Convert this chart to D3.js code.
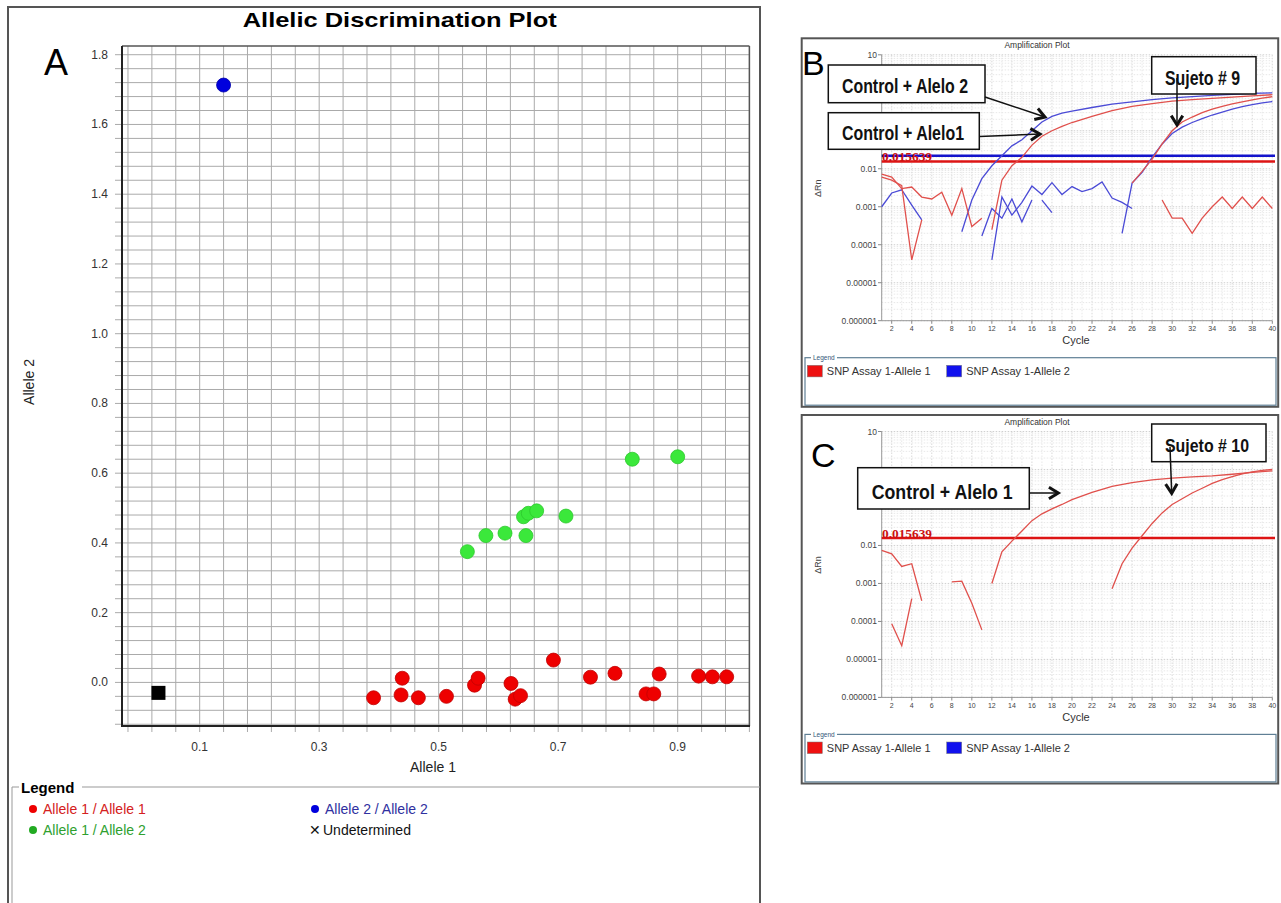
<!DOCTYPE html>
<html>
<head>
<meta charset="utf-8">
<script src="https://cdn.jsdelivr.net/npm/d3@7"></script>
<style>
  body { margin: 0; background: #fff; }
  svg { display: block; font-family: "Liberation Sans", Arial, sans-serif; }
</style>
</head>
<body>
<svg id="chart" width="1281" height="903"></svg>
<script>
/*
 * Allelic discrimination plot (A) + two amplification plots (B, C)
 */

// ---- panel A data : [Allele 1, Allele 2]
var allele11 = [[0.391,-0.044],[0.439,0.012],[0.437,-0.036],[0.466,-0.044],[0.513,-0.040],
  [0.560,-0.008],[0.566,0.012],[0.621,-0.003],[0.628,-0.048],[0.637,-0.038],[0.692,0.064],
  [0.754,0.015],[0.795,0.026],[0.847,-0.033],[0.860,-0.033],[0.869,0.024],[0.935,0.018],
  [0.958,0.016],[0.982,0.016]];
var allele12 = [[0.548,0.375],[0.579,0.421],[0.611,0.428],[0.646,0.421],[0.642,0.475],
  [0.650,0.485],[0.664,0.492],[0.713,0.477],[0.824,0.640],[0.900,0.647]];
var allele22 = [[0.140,1.713]];
var undetermined = [[0.031,-0.030]];
var xTicksA = [0.1, 0.3, 0.5, 0.7, 0.9];
var yTicksA = [0.0, 0.2, 0.4, 0.6, 0.8, 1.0, 1.2, 1.4, 1.6, 1.8];

// ---- panel B data : [cycle, delta Rn]
var bRedNoise1 = [[1,0.0072],[2,0.0060],[3,0.0030],[4,0.0033],[5,0.0018],[6,0.0016],[7,0.0024],[8,0.0006],[9,0.0030],[10,0.0003],[11,0.0005]];
var bRedNoise2 = [[1,0.0060],[2,0.0050],[3,0.0036],[4,0.00004],[5,0.00045]];
var bRedNoise3 = [[29,0.0015],[30,0.0005],[31,0.0005],[32,0.0002],[33,0.0005],[34,0.001],[35,0.0018],[36,0.0009],[37,0.0018],[38,0.0009],[39,0.0018],[40,0.0009]];
var bRedCtrl = [[12,0.00025],[13,0.0050],[14,0.012],[15,0.020],[16,0.042],[17,0.072],[18,0.10],[19,0.13],[20,0.165],[22,0.24],[24,0.34],[26,0.44],[28,0.52],[30,0.60],[32,0.66],[34,0.71],[36,0.77],[38,0.83],[40,0.89]];
var bRedSubj = [[26,0.0042],[27,0.0085],[28,0.018],[29,0.045],[30,0.10],[31,0.17],[32,0.23],[33,0.30],[34,0.37],[35,0.44],[36,0.51],[37,0.58],[38,0.65],[39,0.72],[40,0.79]];
var bBlueNoise1 = [[1,0.001],[2,0.0023],[3,0.0028],[4,0.0011],[5,0.00045]];
var bBlueNoise2 = [[11,0.00017],[12,0.0009],[13,0.0005],[14,0.0016],[15,0.0004],[16,0.0015]];
var bBlueNoise3 = [[12,0.00004],[13,0.0018],[14,0.0006],[15,0.0013],[16,0.0035],[17,0.0021],[18,0.0043],[19,0.0021],[20,0.0034],[21,0.0025],[22,0.0030],[23,0.0045],[24,0.0017],[25,0.0013],[26,0.0009]];
var bBlueNoise4 = [[17,0.0015],[18,0.0007]];
var bBlueCtrl = [[9,0.00022],[10,0.0015],[11,0.0055],[12,0.012],[13,0.022],[14,0.040],[15,0.058],[16,0.10],[17,0.17],[18,0.24],[19,0.29],[20,0.33],[22,0.41],[24,0.50],[26,0.58],[28,0.66],[30,0.73],[32,0.79],[34,0.85],[36,0.91],[38,0.96],[40,1.0]];
var bBlueSubj = [[25,0.0002],[26,0.0042],[27,0.008],[28,0.020],[29,0.045],[30,0.085],[31,0.125],[32,0.165],[33,0.21],[34,0.26],[35,0.31],[36,0.37],[37,0.43],[38,0.49],[39,0.54],[40,0.59]];
var bThresholdRed = 0.015639;
var bThresholdBlue = 0.022;

// ---- panel C data
var cRedNoise1 = [[1,0.0074],[2,0.0060],[3,0.0028],[4,0.0033],[5,0.00035]];
var cRedNoise2 = [[2,0.000087],[3,0.000023],[4,0.0004]];
var cRedNoise3 = [[8,0.0011],[9,0.00115],[10,0.0003],[11,0.00006]];
var cRedCtrl = [[12,0.001],[13,0.0068],[14,0.013],[15,0.024],[16,0.045],[17,0.068],[18,0.092],[19,0.12],[20,0.16],[22,0.25],[24,0.36],[26,0.45],[28,0.53],[30,0.59],[32,0.64],[34,0.68],[36,0.75],[38,0.84],[40,0.92]];
var cRedSubj = [[24,0.00072],[25,0.0033],[26,0.0085],[27,0.018],[28,0.038],[29,0.072],[30,0.12],[31,0.17],[32,0.24],[33,0.32],[34,0.43],[35,0.54],[36,0.65],[37,0.77],[38,0.87],[39,0.95],[40,1.0]];
var cThresholdRed = 0.015639;

// tick values; the labels "1" and "0.1" sit under the callout boxes in the original
var ampYTicks = [10, 1, 0.1, 0.01, 0.001, 0.0001, 0.00001, 0.000001];
var ampYLabels = ["10", "", "", "0.01", "0.001", "0.0001", "0.00001", "0.000001"];
var ampXTicks = d3.range(2, 41, 2);

var svg = d3.select("#chart");

/*
 * Panel A : allelic discrimination scatter
 */
function drawScatter() {
  var g = svg.append("g");
  var x = d3.scaleLinear().domain([-0.03, 1.02]).range([122, 749.4]);
  var y = d3.scaleLinear().domain([-0.125, 1.825]).range([726, 46]);

  g.append("rect").attr("x", 8).attr("y", 7).attr("width", 752).attr("height", 910)
    .attr("fill", "none").attr("stroke", "#555").attr("stroke-width", 2);

  g.append("text").attr("x", 399.7).attr("y", 26.5).attr("text-anchor", "middle")
    .attr("font-size", 21).attr("font-weight", "bold").attr("textLength", 314)
    .attr("lengthAdjust", "spacingAndGlyphs").text("Allelic Discrimination Plot");
  g.append("text").attr("x", 44).attr("y", 75).attr("font-size", 36).text("A");

  // grid every 0.04
  var vx = d3.range(0, 27).map(function(i){ return -0.02 + i * 0.04; });
  var hy = d3.range(0, 49).map(function(i){ return -0.12 + i * 0.04; });
  g.selectAll(".vg").data(vx).enter().append("line")
    .attr("x1", function(d){ return x(d); }).attr("x2", function(d){ return x(d); })
    .attr("y1", 46).attr("y2", 732).attr("stroke", "#aaa").attr("stroke-width", 1);
  g.selectAll(".hg").data(hy).enter().append("line")
    .attr("y1", function(d){ return y(d); }).attr("y2", function(d){ return y(d); })
    .attr("x1", 115).attr("x2", 749.4).attr("stroke", "#aaa").attr("stroke-width", 1);

  // frame
  g.append("line").attr("x1", 122).attr("x2", 749.4).attr("y1", 46).attr("y2", 46).attr("stroke", "#555").attr("stroke-width", 1.5);
  g.append("line").attr("x1", 749.4).attr("x2", 749.4).attr("y1", 46).attr("y2", 726).attr("stroke", "#555").attr("stroke-width", 1.5);
  g.append("line").attr("x1", 122).attr("x2", 122).attr("y1", 46).attr("y2", 727).attr("stroke", "#222").attr("stroke-width", 2);
  g.append("line").attr("x1", 121).attr("x2", 750).attr("y1", 726).attr("y2", 726).attr("stroke", "#222").attr("stroke-width", 2);

  g.selectAll(".yl").data(yTicksA).enter().append("text")
    .attr("x", 108).attr("y", function(d){ return y(d) + 4; }).attr("text-anchor", "end")
    .attr("font-size", 12).attr("fill", "#333").text(function(d){ return d.toFixed(1); });
  g.selectAll(".xl").data(xTicksA).enter().append("text")
    .attr("x", function(d){ return x(d); }).attr("y", 751).attr("text-anchor", "middle")
    .attr("font-size", 12).attr("fill", "#333").text(function(d){ return d.toFixed(1); });

  g.append("text").attr("transform", "translate(34,382) rotate(-90)").attr("text-anchor", "middle")
    .attr("font-size", 14).attr("fill", "#222").text("Allele 2");
  g.append("text").attr("x", 433).attr("y", 772).attr("text-anchor", "middle")
    .attr("font-size", 14).attr("fill", "#222").text("Allele 1");

  function dots(data, fill, edge) {
    g.selectAll(null).data(data).enter().append("circle")
      .attr("cx", function(d){ return x(d[0]); }).attr("cy", function(d){ return y(d[1]); })
      .attr("r", 7).attr("fill", fill).attr("stroke", edge).attr("stroke-width", 0.8);
  }
  dots(allele11, "#ee0000", "#c00000");
  dots(allele12, "#3be83b", "#2cc82c");
  dots(allele22, "#0000dd", "#0000aa");
  g.selectAll(null).data(undetermined).enter().append("rect")
    .attr("x", function(d){ return x(d[0]) - 7; }).attr("y", function(d){ return y(d[1]) - 7; })
    .attr("width", 14).attr("height", 14).attr("fill", "#000");

  // legend
  g.append("line").attr("x1", 12).attr("x2", 19).attr("y1", 787).attr("y2", 787).attr("stroke", "#999");
  g.append("line").attr("x1", 82).attr("x2", 760).attr("y1", 787).attr("y2", 787).attr("stroke", "#999");
  g.append("line").attr("x1", 12).attr("x2", 12).attr("y1", 787).attr("y2", 910).attr("stroke", "#999");
  g.append("text").attr("x", 21).attr("y", 793).attr("font-size", 15).attr("font-weight", "bold").text("Legend");

  var items = [
    {label: "Allele 1 / Allele 1", color: "#d42020", dot: "#ee0000", x: 33, y: 809},
    {label: "Allele 1 / Allele 2", color: "#2fa02f", dot: "#22aa22", x: 33, y: 830},
    {label: "Allele 2 / Allele 2", color: "#3030a0", dot: "#0000dd", x: 315, y: 809}
  ];
  items.forEach(function(it){
    g.append("circle").attr("cx", it.x).attr("cy", it.y).attr("r", 4).attr("fill", it.dot);
    g.append("text").attr("x", it.x + 10).attr("y", it.y + 5).attr("font-size", 14)
      .attr("fill", it.color).text(it.label);
  });
  g.append("text").attr("x", 309).attr("y", 835).attr("font-size", 14).attr("fill", "#111").text("\u2715");
  g.append("text").attr("x", 323).attr("y", 835).attr("font-size", 14).attr("fill", "#111").text("Undetermined");
}

/*
 * Panels B and C : amplification plots on a log scale (local coords, translated by top)
 */
function drawAmp(top, reds, blues, thresholds, letter, letterX, letterY) {
  var g = svg.append("g").attr("transform", "translate(0," + top + ")");
  var x = d3.scaleLinear().domain([1, 40]).range([881.7, 1272.3]);
  var y = d3.scaleLog().domain([0.000001, 10]).range([282.4, 16.5]);

  g.append("rect").attr("x", 801.7).attr("y", 0).attr("width", 476.5).attr("height", 368.5)
    .attr("fill", "#fff").attr("stroke", "#555").attr("stroke-width", 2);
  g.append("text").attr("x", 1037).attr("y", 10).attr("text-anchor", "middle")
    .attr("font-size", 8.5).attr("fill", "#333").text("Amplification Plot");

  // grid
  var minor = [];
  [0.000001, 0.00001, 0.0001, 0.001, 0.01, 0.1, 1].forEach(function(dec){
    for (var m = 1; m < 10; m++) minor.push({v: dec * m, major: m === 1});
  });
  minor.push({v: 10, major: true});
  g.selectAll(null).data(d3.range(1, 41)).enter().append("line")
    .attr("x1", function(d){ return x(d); }).attr("x2", function(d){ return x(d); })
    .attr("y1", 16.5).attr("y2", 282.4)
    .attr("stroke", function(d){ return d % 2 === 0 ? "#cfcfcf" : "#e2e2e2"; })
    .attr("stroke-dasharray", "1.5,1.5").attr("stroke-width", 0.8);
  g.selectAll(null).data(minor).enter().append("line")
    .attr("y1", function(d){ return y(d.v); }).attr("y2", function(d){ return y(d.v); })
    .attr("x1", 881.7).attr("x2", 1272.3)
    .attr("stroke", function(d){ return d.major ? "#c4c4c4" : "#e2e2e2"; })
    .attr("stroke-dasharray", "1.5,1.5").attr("stroke-width", 0.8);

  // axes
  g.append("line").attr("x1", 881.7).attr("x2", 881.7).attr("y1", 16.5).attr("y2", 282.4).attr("stroke", "#999");
  g.append("line").attr("x1", 881.7).attr("x2", 1272.3).attr("y1", 282.4).attr("y2", 282.4).attr("stroke", "#999");
  g.selectAll(null).data(ampYTicks).enter().append("line")
    .attr("x1", 878).attr("x2", 881.7).attr("y1", function(d){ return y(d); }).attr("y2", function(d){ return y(d); })
    .attr("stroke", "#888");
  g.selectAll(null).data(ampYTicks.filter(function(d, i){ return ampYLabels[i] !== ""; })).enter().append("text")
    .attr("x", 877).attr("y", function(d){ return y(d) + 3; }).attr("text-anchor", "end")
    .attr("font-size", 8.5).attr("fill", "#444").text(function(d){ return ampYLabels[ampYTicks.indexOf(d)]; });
  g.selectAll(null).data(ampXTicks).enter().append("line")
    .attr("x1", function(d){ return x(d); }).attr("x2", function(d){ return x(d); })
    .attr("y1", 282.4).attr("y2", 285.5).attr("stroke", "#888");
  g.selectAll(null).data(ampXTicks).enter().append("text")
    .attr("x", function(d){ return x(d); }).attr("y", 293).attr("text-anchor", "middle")
    .attr("font-size", 7).attr("fill", "#444").text(function(d){ return d; });
  g.append("text").attr("x", 1076).attr("y", 306).attr("text-anchor", "middle")
    .attr("font-size", 11).attr("fill", "#333").text("Cycle");
  g.append("text").attr("transform", "translate(821,150) rotate(-90)").attr("text-anchor", "middle")
    .attr("font-size", 9).attr("fill", "#444").text("\u0394Rn");

  // thresholds
  thresholds.forEach(function(t){
    g.append("line").attr("x1", 881.7).attr("x2", 1275).attr("y1", y(t.v)).attr("y2", y(t.v))
      .attr("stroke", t.color).attr("stroke-width", 2.5);
  });
  g.append("text").attr("x", 882).attr("y", y(thresholds[thresholds.length - 1].v) - 0.5)
    .attr("font-family", "'Liberation Serif', 'DejaVu Serif', serif").attr("font-size", 12)
    .attr("font-weight", "bold").attr("fill", "#cc1111").attr("textLength", 50)
    .attr("lengthAdjust", "spacingAndGlyphs").text(thresholds[thresholds.length - 1].v.toString());

  // curves
  var line = d3.line().x(function(d){ return x(d[0]); }).y(function(d){ return y(d[1]); });
  blues.forEach(function(s){
    g.append("path").attr("d", line(s)).attr("fill", "none").attr("stroke", "#4b4bd6").attr("stroke-width", 1.3);
  });
  reds.forEach(function(s){
    g.append("path").attr("d", line(s)).attr("fill", "none").attr("stroke", "#e0504c").attr("stroke-width", 1.3);
  });

  // legend
  g.append("rect").attr("x", 805).attr("y", 319.4).attr("width", 471).attr("height", 47.5)
    .attr("fill", "none").attr("stroke", "#5f7f95").attr("stroke-width", 1.2);
  g.append("rect").attr("x", 811).attr("y", 316).attr("width", 26).attr("height", 6).attr("fill", "#fff");
  g.append("text").attr("x", 813).attr("y", 321.5).attr("font-size", 6.5).attr("fill", "#335577").text("Legend");
  [{c: "#ee1111", t: "SNP Assay 1-Allele 1", x: 807.3}, {c: "#1111ee", t: "SNP Assay 1-Allele 2", x: 946.7}].forEach(function(it){
    g.append("rect").attr("x", it.x).attr("y", 327).attr("width", 15).attr("height", 11.6)
      .attr("fill", it.c).attr("stroke", "#777").attr("stroke-width", 0.5);
    g.append("text").attr("x", it.x + 19.5).attr("y", 337).attr("font-size", 11).attr("fill", "#333").text(it.t);
  });

  g.append("text").attr("x", letterX).attr("y", letterY).attr("font-size", 34).text(letter);
  return g;
}

function callout(bx, by, bw, bh, label, fs, tl, tx, ty) {
  svg.append("rect").attr("x", bx).attr("y", by).attr("width", bw).attr("height", bh)
    .attr("fill", "#fff").attr("stroke", "#111").attr("stroke-width", 1.5);
  svg.append("text").attr("x", tx).attr("y", ty).attr("font-size", fs).attr("font-weight", "bold")
    .attr("font-family", "'Liberation Sans Narrow', 'Arial Narrow', 'Liberation Sans', sans-serif")
    .attr("textLength", tl).attr("lengthAdjust", "spacingAndGlyphs").attr("fill", "#111").text(label);
}

function arrow(x1, y1, x2, y2) {
  var a = Math.atan2(y2 - y1, x2 - x1), L = 11, s = 0.55;
  svg.append("line").attr("x1", x1).attr("y1", y1).attr("x2", x2).attr("y2", y2)
    .attr("stroke", "#111").attr("stroke-width", 1.5);
  svg.append("path")
    .attr("d", "M" + (x2 - L * Math.cos(a - s)) + "," + (y2 - L * Math.sin(a - s)) +
      "L" + x2 + "," + y2 + "L" + (x2 - L * Math.cos(a + s)) + "," + (y2 - L * Math.sin(a + s)))
    .attr("fill", "none").attr("stroke", "#111").attr("stroke-width", 3);
}

drawScatter();

drawAmp(38.3,
  [bRedNoise1, bRedNoise2, bRedNoise3, bRedCtrl, bRedSubj],
  [bBlueNoise1, bBlueNoise2, bBlueNoise3, bBlueNoise4, bBlueCtrl, bBlueSubj],
  [{v: bThresholdBlue, color: "#1414cc"}, {v: bThresholdRed, color: "#dd1414"}],
  "B", 802, 36.5);

drawAmp(415,
  [cRedNoise1, cRedNoise2, cRedNoise3, cRedCtrl, cRedSubj],
  [],
  [{v: cThresholdRed, color: "#dd1414"}],
  "C", 811, 52);

// annotations panel B
callout(828.3, 65, 156.7, 37.7, "Control + Alelo 2", 20, 126, 842, 93);
arrow(985, 97, 1045, 117);
callout(828.3, 112.7, 151, 36.6, "Control + Alelo1", 20, 122, 842, 140);
arrow(979.3, 136.5, 1040, 134);
callout(1151.7, 56.7, 104.3, 37.3, "Sujeto # 9", 20, 75, 1165, 85);
arrow(1177, 78, 1177, 125);

// annotations panel C
callout(857.7, 467.7, 171.6, 41.3, "Control +  Alelo 1", 21, 141, 871.7, 498.5);
arrow(1029.3, 493, 1058.3, 493);
callout(1151.7, 424, 114.3, 37.7, "Sujeto # 10", 19, 84, 1165, 452);
arrow(1170, 447, 1171.7, 493.3);
</script>
</body>
</html>
